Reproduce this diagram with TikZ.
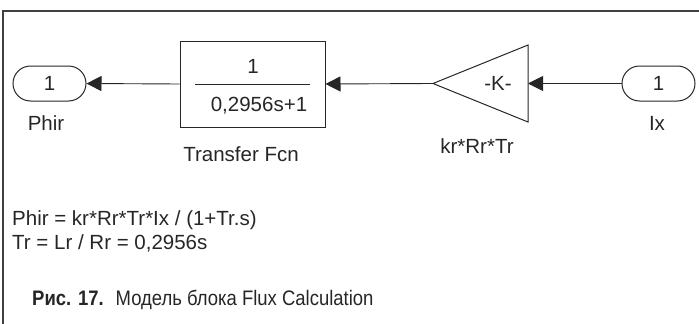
\documentclass[tikz,border=0pt]{standalone}
\usepackage{fontspec}
\setmainfont{Liberation Sans}
\newfontfamily\capfont[FakeStretch=0.88]{Liberation Sans}
\usetikzlibrary{positioning,calc,arrows.meta,shapes.misc}

\begin{document}
\begin{tikzpicture}[x=1pt,y=-1pt,
    every node/.style={font=\fontsize{20.5}{24}\selectfont, text=black!85},
    port/.style={draw=black!85, rounded rectangle, minimum width=73pt, minimum height=35pt, inner sep=0pt, line width=1pt},
    block/.style={draw=black!85, minimum width=145pt, minimum height=86pt, inner sep=0pt, line width=1pt},
    lbl/.style={inner sep=0pt},
    signal/.style={draw=black!85, line width=0.9pt, -{Triangle[length=15pt,width=15pt]}}
  ]
\useasboundingbox (0,0) rectangle (699,324);
\draw[line width=1.5pt, black!75] (699,11) -- (3,11) -- (3,324);

\node[port] (phir) at (49.5,83.5) {1};
\node[lbl] (phirlbl) at (46,123) {Phir};
\node[block] (tf) at (252.5,84) {};
\coordinate (fracL) at ($(tf.center)+(-57.5,0)$); \coordinate (fracR) at ($(tf.center)+(57.5,0)$);
\draw[black!85, line width=1pt] (fracL) -- (fracR);
\node[lbl] (num) at (253,66) {1};
\node[lbl] (den) at (259,106) {0,2956s+1};
\node[lbl] (tflbl) at (241,154) {Transfer Fcn};

\coordinate (gainL) at (433,83.5); \coordinate (gainT) at (528,45);
\coordinate (gainB) at (528,122); \coordinate (gainR) at (528,83.5);
\draw[black!85, line width=1pt] (gainL) -- (gainT) -- (gainB) -- cycle;
\node[lbl] (gaink) at (498,83) {-K-};
\node[lbl] (gainlbl) at (477,146) {kr*Rr*Tr};
\node[port] (ix) at (658.5,83.5) {1};
\node[lbl] (ixlbl) at (657,123) {Ix};

\draw[signal] (ix.west) -- (gainR);
\draw[signal] (gainL) -- (tf.east);
\draw[signal] (tf.west) -- (phir.east);

\node[lbl, anchor=west] (eq1) at (12,220) {Phir = kr*Rr*Tr*Ix / (1+Tr.s)};
\node[lbl, anchor=west] (eq2) at (12,243) {Tr = Lr / Rr = 0,2956s};
\node[lbl, anchor=base west, font=\capfont\fontsize{21}{24}\selectfont] (cap) at (32,305)
  {\textbf{Рис. 17.}\hspace{5pt} Модель блока Flux Calculation};
\end{tikzpicture}
\end{document}
